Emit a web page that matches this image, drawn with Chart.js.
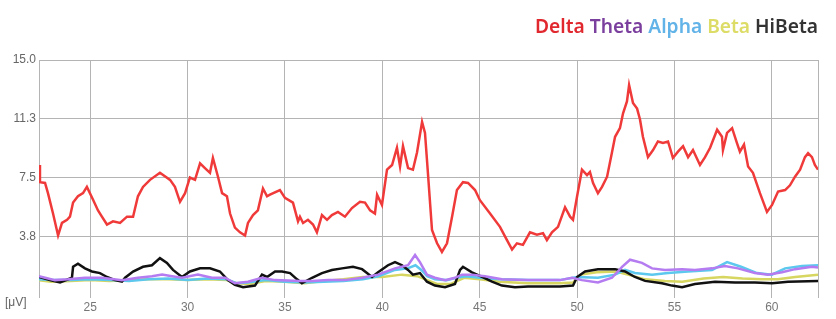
<!DOCTYPE html>
<html>
<head>
<meta charset="utf-8">
<script src="https://cdn.jsdelivr.net/npm/chart.js@4.4.1/dist/chart.umd.min.js"></script>
<style>
  html, body { margin: 0; padding: 0; background: #fff; }
  #wrap { width: 836px; height: 319px; }
</style>
</head>
<body>
<div id="wrap"><canvas id="eegChart" width="836" height="319"></canvas></div>
<script>
// time axis (s) and band power values [μV]
const deltaT = [22.37,22.42,22.68,22.83,23.09,23.35,23.55,23.81,23.96,24.12,24.37,24.63,24.83,25.14,25.40,25.60,25.86,26.17,26.53,26.89,27.20,27.45,27.71,28.07,28.58,29.10,29.35,29.61,29.87,30.12,30.38,30.64,30.89,31.15,31.30,31.56,31.77,32.02,32.18,32.43,32.69,32.95,33.10,33.36,33.61,33.87,34.08,34.23,34.74,35.00,35.41,35.67,35.77,35.93,36.18,36.44,36.64,36.90,37.16,37.41,37.72,38.08,38.44,38.85,39.11,39.37,39.62,39.73,39.98,40.24,40.50,40.75,40.91,41.06,41.32,41.57,41.78,42.04,42.19,42.34,42.55,42.81,43.06,43.32,43.58,43.83,44.14,44.40,44.76,45.01,45.53,46.04,46.40,46.66,46.91,47.22,47.58,47.94,48.25,48.45,48.71,49.02,49.38,49.64,49.79,50.00,50.25,50.51,50.66,50.82,51.07,51.28,51.54,51.79,51.95,52.20,52.36,52.56,52.67,52.87,53.08,53.23,53.38,53.64,53.90,54.15,54.41,54.67,54.92,55.18,55.44,55.70,55.95,56.31,56.57,56.83,57.19,57.44,57.49,57.70,57.96,58.21,58.36,58.57,58.78,59.03,59.39,59.75,60.01,60.32,60.68,60.93,61.19,61.45,61.70,61.86,62.06,62.21,62.37];
const deltaV = [8.3,7.2,7.15,6.5,5.2,3.8,4.6,4.8,5.0,5.9,6.3,6.5,6.9,6.1,5.4,5.0,4.5,4.7,4.6,5.0,5.0,6.3,6.9,7.35,7.8,7.35,6.9,5.95,6.5,7.5,7.35,8.4,8.1,7.8,8.75,7.55,6.5,6.3,5.2,4.3,4.0,3.8,4.6,5.1,5.4,6.8,6.3,6.4,6.7,6.2,5.9,4.7,5.0,4.6,4.8,4.5,4.0,5.1,4.8,5.1,5.3,5.0,5.55,5.95,5.9,5.4,5.2,6.4,5.75,8.0,8.3,9.4,8.2,9.5,8.1,8.0,9.1,11.05,10.35,7.8,4.15,3.3,2.75,3.3,5.0,6.7,7.2,7.15,6.7,6.05,5.2,4.35,3.5,2.9,3.3,3.2,4.0,3.85,3.95,3.5,4.0,4.35,5.6,5.0,4.8,6.3,8.0,7.65,7.85,7.15,6.5,6.9,7.55,9.1,10.1,10.65,11.6,12.35,13.4,12.25,11.9,11.2,10.1,8.8,9.25,9.8,9.7,9.8,8.75,9.15,9.5,8.8,9.25,8.3,8.8,9.4,10.55,10.1,9.25,10.35,10.65,9.7,9.15,9.6,8.2,7.8,6.5,5.3,5.75,6.6,6.7,7.0,7.55,8.0,8.8,9.05,8.8,8.3,8.0];

const thetaT = [22.37,22.68,23.19,23.86,24.73,25.60,26.63,27.45,28.17,28.69,29.20,29.71,30.53,31.25,31.92,32.43,33.10,33.82,34.49,35.77,36.39,37.21,38.08,38.96,39.78,40.65,41.32,41.68,41.93,42.29,42.70,43.22,43.73,44.09,44.60,45.27,46.14,47.48,49.12,49.74,50.25,51.07,51.79,52.31,52.72,53.33,53.85,54.51,55.39,56.05,56.93,57.59,58.26,59.13,59.80,60.52,61.19,62.06,62.37];
const thetaV = [1.2,1.1,0.95,1.0,1.1,1.1,0.95,1.1,1.2,1.3,1.2,1.1,1.3,1.1,1.1,0.75,0.85,1.1,0.95,0.9,0.9,0.95,0.95,1.1,1.3,1.7,1.9,2.55,2.1,1.3,1.1,0.95,1.1,1.3,1.3,1.2,1.0,0.95,0.95,1.1,0.95,0.8,1.1,1.8,2.25,2.05,1.7,1.6,1.65,1.6,1.7,1.85,1.7,1.4,1.3,1.45,1.65,1.8,1.75];

const alphaT = [22.37,23.0,24.0,25.0,26.0,27.0,28.0,29.0,30.0,31.0,32.0,32.5,33.1,34.0,35.0,36.0,37.0,38.0,39.0,39.8,40.65,41.3,41.7,42.0,42.3,42.7,43.3,43.8,44.3,45.0,46.0,47.5,49.1,50.0,51.07,51.95,52.46,52.97,53.85,54.67,55.7,56.93,57.7,58.42,59.24,60.0,60.68,61.55,62.37];
const alphaV = [1.0,0.95,0.95,1.0,0.95,0.9,1.0,1.05,0.95,1.05,1.0,0.75,0.8,0.95,0.85,0.8,0.85,0.9,1.0,1.2,1.6,1.7,1.9,1.6,1.2,1.0,0.95,1.1,1.2,1.1,1.0,0.95,0.95,1.15,1.1,1.3,1.6,1.4,1.3,1.4,1.5,1.6,2.1,1.8,1.4,1.3,1.7,1.85,1.9];

const betaT = [22.37,23,24,25,26,27,28,29,30,31,32,32.5,33.2,34,35,36,37,38,39,40,41,41.8,42.3,42.8,43.5,44.2,45,46,47.5,49.1,49.8,50.2,51,52,52.6,53.5,54.5,55.4,56.5,57.5,58.5,59.5,60.3,61.2,62.37];
const betaV = [0.95,0.85,0.9,0.95,0.9,0.95,1.0,1.0,0.95,1.0,0.95,0.75,0.7,0.9,0.85,0.75,0.9,1.0,1.15,1.15,1.3,1.2,0.95,0.7,0.7,1.1,1.0,0.85,0.75,0.75,0.8,1.3,1.45,1.5,1.3,1.0,0.9,0.85,1.05,1.15,1.05,1.0,1.0,1.15,1.3];

const hiBetaT = [22.37,22.93,23.45,24.06,24.12,24.37,24.73,25.09,25.50,25.86,26.27,26.63,26.79,27.20,27.71,28.17,28.58,28.94,29.25,29.71,30.12,30.64,31.15,31.66,32.07,32.43,32.85,33.46,33.82,34.08,34.49,34.85,35.26,35.62,35.87,36.39,36.90,37.41,37.93,38.49,38.96,39.47,39.78,40.29,40.65,41.01,41.32,41.57,41.93,42.29,42.70,43.22,43.73,43.99,44.14,44.60,45.12,45.63,46.14,46.81,47.48,49.12,49.79,50.00,50.41,51.07,51.95,52.46,52.97,53.49,54.36,54.87,55.39,56.05,57.08,58.11,59.13,60.01,60.83,62.37];
const hiBetaV = [1.15,0.95,0.8,1.1,1.8,2.0,1.7,1.5,1.4,1.15,0.95,0.85,1.1,1.5,1.8,1.9,2.35,2.05,1.6,1.15,1.5,1.7,1.7,1.5,0.95,0.65,0.5,0.6,1.3,1.15,1.5,1.5,1.4,1.0,0.75,1.1,1.4,1.6,1.7,1.8,1.65,1.15,1.45,1.9,2.1,1.9,1.6,1.3,1.4,0.85,0.6,0.5,0.7,1.6,1.8,1.45,1.15,0.85,0.6,0.5,0.55,0.55,0.6,1.15,1.5,1.65,1.65,1.5,1.15,0.9,0.75,0.6,0.5,0.7,0.85,0.8,0.8,0.75,0.85,0.9];

const bandNames = ['Delta', 'Theta', 'Alpha', 'Beta', 'HiBeta'];
const legendColors = ['#e0282e', '#7b3f9e', '#62b3e8', '#dcdc66', '#333333'];

const xMin = 22.37, xMax = 62.37;
const xTicks = [25, 30, 35, 40, 45, 50, 55, 60];
const yTicks = [0, 3.75, 7.5, 11.25, 15];

function pts(t, v) {
    return t.map(function (x, i) { return { x: x, y: v[i] }; });
}

function band(label, t, v, color, order) {
    return {
        label: label,
        data: pts(t, v),
        borderColor: color,
        borderWidth: 2.5,
        pointRadius: 0,
        tension: 0,
        order: order
    };
}

// coloured word legend top right + unit label bottom left
const textPlugin = {
    id: 'textPlugin',
    afterDraw(chart) {
        const c = chart.ctx;
        c.save();
        c.font = '600 20px "Noto Sans"';
        c.textBaseline = 'alphabetic';
        const full = bandNames.join(' ');
        const w = c.measureText(full).width;
        const sx = 283 / w;
        c.translate(535, 33);
        c.scale(sx, 1);
        let x = 0;
        bandNames.forEach(function (name, i) {
            c.fillStyle = legendColors[i];
            c.fillText(name, x, 0);
            x += c.measureText(name + ' ').width;
        });
        c.restore();

        c.save();
        c.font = '12px "Liberation Sans"';
        c.fillStyle = '#666';
        c.textBaseline = 'middle';
        c.fillText('[μV]', 5, 303);
        c.restore();
    }
};

const ctx = document.getElementById('eegChart').getContext('2d');
const eegChart = new Chart(ctx, {
    type: 'line',
    data: {
        datasets: [
            band('Delta', deltaT, deltaV, '#f03a3a', 0),
            band('Theta', thetaT, thetaV, '#b47cf0', 1),
            band('HiBeta', hiBetaT, hiBetaV, '#111111', 2),
            band('Alpha', alphaT, alphaV, '#5cc8ee', 3),
            band('Beta', betaT, betaV, '#d6d660', 4)
        ]
    },
    options: {
        responsive: false,
        animation: false,
        layout: { padding: { top: 60, right: 18, left: 0, bottom: 0 } },
        plugins: {
            legend: { display: false },
            tooltip: { enabled: false }
        },
        scales: {
            x: {
                type: 'linear',
                min: xMin,
                max: xMax,
                afterBuildTicks: function (s) {
                    s.ticks = [xMin].concat(xTicks, [xMax]).map(function (v) { return { value: v }; });
                },
                ticks: {
                    autoSkip: false,
                    maxRotation: 0,
                    padding: 2,
                    color: '#777',
                    font: { family: 'Liberation Sans', size: 12 },
                    callback: function (v) { return xTicks.indexOf(v) >= 0 ? String(v) : ''; }
                },
                grid: { color: '#b4b4b4', lineWidth: 1, tickLength: 3 },
                border: { display: false },
                afterFit: function (s) { s.height = 24; }
            },
            y: {
                min: 0,
                max: 15,
                afterBuildTicks: function (s) { s.ticks = yTicks.map(function (v) { return { value: v }; }); },
                ticks: {
                    padding: 3,
                    color: '#666',
                    font: { family: 'Liberation Sans', size: 12 },
                    callback: function (v) { return v > 0 ? v.toFixed(1) : ''; }
                },
                grid: {
                    drawTicks: false,
                    lineWidth: 1,
                    color: function (c) { return c.tick && c.tick.value === 0 ? 'rgba(0,0,0,0)' : '#b4b4b4'; }
                },
                border: { display: true, color: '#b4b4b4' },
                afterFit: function (s) { s.width = 39; }
            }
        }
    },
    plugins: [textPlugin]
});
</script>
</body>
</html>
